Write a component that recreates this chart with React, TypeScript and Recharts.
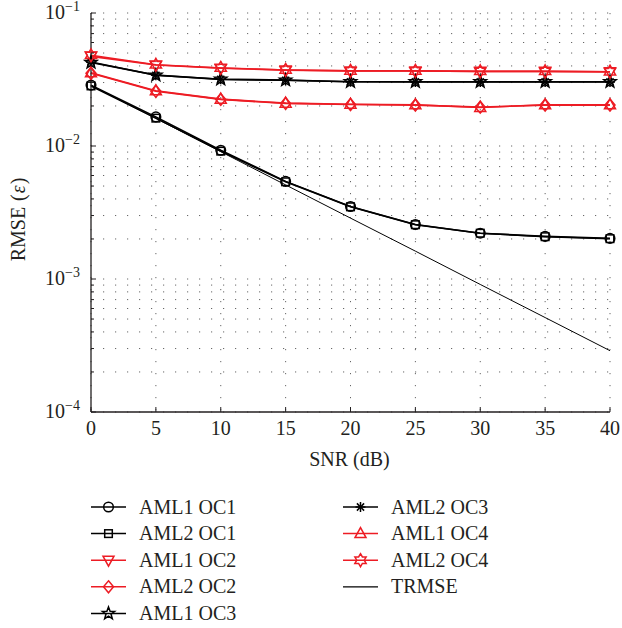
import React from 'react';
import { LineChart, Line, XAxis, YAxis, CartesianGrid, Legend } from 'recharts';

const snr = [0, 5, 10, 15, 20, 25, 30, 35, 40];
const aml1OC1 = [0.0287, 0.01655, 0.00928, 0.00542, 0.00351, 0.00257, 0.00221, 0.00209, 0.00202];
const aml2OC1 = [0.0283, 0.0162, 0.00915, 0.00538, 0.00349, 0.00256, 0.00221, 0.00208, 0.00201];
const aml1OC2 = [0.0472, 0.0406, 0.0385, 0.0372, 0.0367, 0.0367, 0.0364, 0.0364, 0.0361];
const aml2OC2 = [0.0352, 0.0258, 0.0224, 0.0209, 0.0205, 0.0203, 0.0196, 0.0203, 0.0203];
const aml1OC3 = [0.0425, 0.0341, 0.0318, 0.0313, 0.0304, 0.0304, 0.0304, 0.0304, 0.0304];
const aml2OC3 = [0.0428, 0.034, 0.0317, 0.0312, 0.0304, 0.0303, 0.0303, 0.0303, 0.0303];
const aml1OC4 = [0.0355, 0.026, 0.0225, 0.021, 0.0206, 0.0204, 0.0195, 0.0204, 0.0204];
const aml2OC4 = [0.0481, 0.0408, 0.0386, 0.0373, 0.0367, 0.0367, 0.0364, 0.0364, 0.0362];
const trmse = [0.0285, 0.0161, 0.00906, 0.0051, 0.00287, 0.00162, 0.00091, 0.000513, 0.000289];

const xTicks = [0, 5, 10, 15, 20, 25, 30, 35, 40];
const yTicks = [
  1e-4, 2e-4, 3e-4, 4e-4, 5e-4, 6e-4, 7e-4, 8e-4, 9e-4,
  1e-3, 2e-3, 3e-3, 4e-3, 5e-3, 6e-3, 7e-3, 8e-3, 9e-3,
  1e-2, 2e-2, 3e-2, 4e-2, 5e-2, 6e-2, 7e-2, 8e-2, 9e-2,
  1e-1,
];

const RED = '#ed1c24';
const BLACK = '#000000';
const TEXT = '#231f20';
const FONT = '"Liberation Serif", "Times New Roman", serif';

type Shape = 'circle' | 'square' | 'triDown' | 'diamond' | 'pentagram' | 'asterisk' | 'triUp' | 'hexagram' | 'none';

const series: { key: string; name: string; values: number[]; color: string; shape: Shape; width: number }[] = [
  { key: 'aml1OC1', name: 'AML1 OC1', values: aml1OC1, color: BLACK, shape: 'circle', width: 1.6 },
  { key: 'aml2OC1', name: 'AML2 OC1', values: aml2OC1, color: BLACK, shape: 'square', width: 1.6 },
  { key: 'aml1OC2', name: 'AML1 OC2', values: aml1OC2, color: RED, shape: 'triDown', width: 1.6 },
  { key: 'aml2OC2', name: 'AML2 OC2', values: aml2OC2, color: RED, shape: 'diamond', width: 1.6 },
  { key: 'aml1OC3', name: 'AML1 OC3', values: aml1OC3, color: BLACK, shape: 'pentagram', width: 1.6 },
  { key: 'aml2OC3', name: 'AML2 OC3', values: aml2OC3, color: BLACK, shape: 'asterisk', width: 1.6 },
  { key: 'aml1OC4', name: 'AML1 OC4', values: aml1OC4, color: RED, shape: 'triUp', width: 1.6 },
  { key: 'aml2OC4', name: 'AML2 OC4', values: aml2OC4, color: RED, shape: 'hexagram', width: 1.6 },
  { key: 'trmse', name: 'TRMSE', values: trmse, color: BLACK, shape: 'none', width: 1 },
];

const data = snr.map((s, i) => {
  const row: Record<string, number> = { snr: s };
  series.forEach((sr) => {
    row[sr.key] = sr.values[i];
  });
  return row;
});

function starPoints(cx: number, cy: number, n: number, R: number, r: number) {
  const pts: string[] = [];
  for (let i = 0; i < n * 2; i++) {
    const rad = i % 2 === 0 ? R : r;
    const a = -Math.PI / 2 + (i * Math.PI) / n;
    pts.push(`${cx + rad * Math.cos(a)},${cy + rad * Math.sin(a)}`);
  }
  return pts.join(' ');
}

function Marker({ shape, cx, cy, color }: { shape: Shape; cx: number; cy: number; color: string }) {
  const common = { fill: 'none', stroke: color, strokeWidth: 1.5 };
  switch (shape) {
    case 'circle':
      return <circle cx={cx} cy={cy} r={4.8} {...common} />;
    case 'square':
      return <rect x={cx - 3.8} y={cy - 3.8} width={7.6} height={7.6} {...common} />;
    case 'triDown':
      return <polygon points={`${cx - 5.5},${cy - 4} ${cx + 5.5},${cy - 4} ${cx},${cy + 6}`} {...common} />;
    case 'triUp':
      return <polygon points={`${cx - 5.5},${cy + 4} ${cx + 5.5},${cy + 4} ${cx},${cy - 6}`} {...common} />;
    case 'diamond':
      return <polygon points={`${cx},${cy - 6} ${cx + 5},${cy} ${cx},${cy + 6} ${cx - 5},${cy}`} {...common} />;
    case 'pentagram':
      return <polygon points={starPoints(cx, cy, 5, 6.5, 2.7)} {...common} />;
    case 'hexagram':
      return <polygon points={starPoints(cx, cy, 6, 6.5, 3.75)} {...common} />;
    case 'asterisk':
      return (
        <g stroke={color} strokeWidth={1.5}>
          <line x1={cx - 5} y1={cy} x2={cx + 5} y2={cy} />
          <line x1={cx} y1={cy - 5} x2={cx} y2={cy + 5} />
          <line x1={cx - 3.6} y1={cy - 3.6} x2={cx + 3.6} y2={cy + 3.6} />
          <line x1={cx - 3.6} y1={cy + 3.6} x2={cx + 3.6} y2={cy - 3.6} />
        </g>
      );
    default:
      return null;
  }
}

const makeDot = (shape: Shape, color: string, key: string) => (props: any) => {
  const { cx, cy, index } = props;
  if (cx == null || cy == null || shape === 'none') return <g key={`${key}-${index}`} />;
  return (
    <g key={`${key}-${index}`}>
      <Marker shape={shape} cx={cx} cy={cy} color={color} />
    </g>
  );
};

const isMajor = (v: number) => Math.abs(Math.log10(v) - Math.round(Math.log10(v))) < 1e-9;

const LeftYTick = (props: any) => {
  const { x, y, payload } = props;
  const v = payload.value;
  const major = isMajor(v);
  const exp = Math.round(Math.log10(v));
  return (
    <g>
      <line x1={x} x2={x + (major ? 5 : 3)} y1={y} y2={y} stroke={TEXT} strokeWidth={1} />
      {major && (
        <text x={x - 11} y={y + 5.5} textAnchor="end" fontFamily={FONT} fill={TEXT} fontSize={20}>
          <tspan>10</tspan>
          <tspan dy={-8} fontSize={14}>{`\u2212${Math.abs(exp)}`}</tspan>
        </text>
      )}
    </g>
  );
};

const RightYTick = (props: any) => {
  const { x, y, payload } = props;
  const major = isMajor(payload.value);
  return <line x1={x} x2={x - (major ? 5 : 3)} y1={y} y2={y} stroke={TEXT} strokeWidth={1} />;
};

const BottomXTick = (props: any) => {
  const { x, y, payload } = props;
  return (
    <g>
      <line x1={x} x2={x} y1={y} y2={y - 5} stroke={TEXT} strokeWidth={1} />
      <text x={x} y={y + 23} textAnchor="middle" fontFamily={FONT} fill={TEXT} fontSize={20}>
        {payload.value}
      </text>
    </g>
  );
};

const TopXTick = (props: any) => {
  const { x, y } = props;
  return <line x1={x} x2={x} y1={y} y2={y + 5} stroke={TEXT} strokeWidth={1} />;
};

const YLabel = (props: any) => {
  const vb = props.viewBox || { x: 0, y: 13, width: 91, height: 399 };
  const cx = vb.x + 25;
  const cy = vb.y + vb.height / 2 + 7;
  return (
    <text x={cx} y={cy} transform={`rotate(-90, ${cx}, ${cy})`} textAnchor="middle" fontFamily={FONT} fontSize={20} fill={TEXT}>
      <tspan>RMSE</tspan>
      <tspan dx={6}>(</tspan>
      <tspan fontStyle="italic" dx={1}>ε</tspan>
      <tspan dx={1}>)</tspan>
    </text>
  );
};

const XLabel = (props: any) => {
  const vb = props.viewBox || { x: 91, y: 412, width: 519, height: 216 };
  return (
    <text x={vb.x + vb.width / 2 - 1} y={vb.y + 54} textAnchor="middle" fontFamily={FONT} fontSize={20} fill={TEXT}>
      SNR (dB)
    </text>
  );
};

const LegendContent = () => {
  const rowY0 = 19;
  const step = 26.6;
  const cols = [
    { lineX: 91, textX: 139, items: series.slice(0, 5) },
    { lineX: 343, textX: 391, items: series.slice(5) },
  ];
  return (
    <svg width={622} height={140} style={{ display: 'block' }}>
      {cols.map((col, ci) =>
        col.items.map((s, i) => {
          const y = rowY0 + i * step;
          return (
            <g key={`${ci}-${i}`}>
              <line x1={col.lineX} x2={col.lineX + 35} y1={y} y2={y} stroke={s.color} strokeWidth={s.shape === 'none' ? 1.2 : 1.5} />
              <Marker shape={s.shape} cx={col.lineX + 17.5} cy={y} color={s.color} />
              <text x={col.textX} y={y + 6.5} fontFamily={FONT} fontSize={20} fill={TEXT}>
                {s.name}
              </text>
            </g>
          );
        })
      )}
    </svg>
  );
};

export default function App() {
  return (
    <div style={{ position: 'absolute', left: 0, top: 0, width: 622, height: 628, background: '#ffffff' }}>
      <LineChart width={622} height={628} data={data} margin={{ top: 13, right: 12, bottom: 0, left: 0 }}>
        <CartesianGrid
          horizontalValues={yTicks}
          verticalValues={xTicks}
          stroke="#666"
          strokeWidth={1}
          strokeDasharray="1.2 10.8"
        />
        <XAxis
          dataKey="snr"
          type="number"
          domain={[0, 40]}
          ticks={xTicks}
          interval={0}
          tickSize={0}
          tickMargin={0}
          tickLine={false}
          height={216}
          axisLine={{ stroke: TEXT, strokeWidth: 1.3 }}
          tick={<BottomXTick />}
          label={<XLabel />}
        />
        <XAxis
          xAxisId="top"
          orientation="top"
          dataKey="snr"
          type="number"
          domain={[0, 40]}
          ticks={xTicks}
          interval={0}
          tickSize={0}
          tickMargin={0}
          tickLine={false}
          height={0}
          axisLine={{ stroke: TEXT, strokeWidth: 1.3 }}
          tick={<TopXTick />}
        />
        <YAxis
          type="number"
          scale="log"
          domain={[1e-4, 1e-1]}
          allowDataOverflow
          ticks={yTicks}
          interval={0}
          tickSize={0}
          tickMargin={0}
          tickLine={false}
          width={91}
          axisLine={{ stroke: TEXT, strokeWidth: 1.3 }}
          tick={<LeftYTick />}
          label={<YLabel />}
        />
        <YAxis
          yAxisId="right"
          orientation="right"
          type="number"
          scale="log"
          domain={[1e-4, 1e-1]}
          allowDataOverflow
          ticks={yTicks}
          interval={0}
          tickSize={0}
          tickMargin={0}
          tickLine={false}
          width={0}
          axisLine={{ stroke: TEXT, strokeWidth: 1.3 }}
          tick={<RightYTick />}
        />
        {series.map((s) => (
          <Line
            key={s.key}
            type="linear"
            dataKey={s.key}
            name={s.name}
            stroke={s.color}
            strokeWidth={s.width}
            dot={makeDot(s.shape, s.color, s.key)}
            activeDot={false}
            isAnimationActive={false}
          />
        ))}
        <Legend
          layout="horizontal"
          verticalAlign="middle"
          align="center"
          wrapperStyle={{ left: 0, top: 488, width: 622, height: 140 }}
          content={() => <LegendContent />}
        />
      </LineChart>
    </div>
  );
}
